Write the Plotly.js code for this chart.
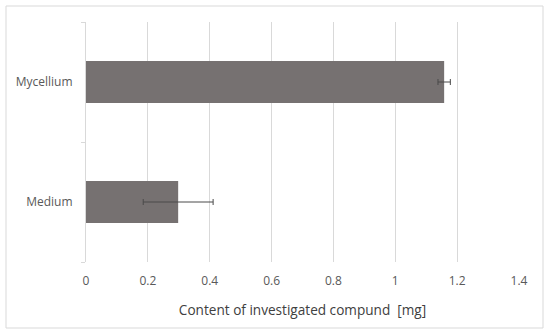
<!DOCTYPE html>
<html>
<head>
<meta charset="utf-8">
<script src="https://cdn.plot.ly/plotly-3.0.1.min.js"></script>
<style>html,body{margin:0;padding:0;background:#fff;} #chart{width:550px;height:335px;}</style>
</head>
<body>
<div id="chart"></div>
<script>
const categories = ["Medium", "Mycellium"];
const values = [0.298, 1.158];
const errors = [0.113, 0.02];
const xTicks = [0, 0.2, 0.4, 0.6, 0.8, 1, 1.2, 1.4];
const xTickLabels = ["0", "0.2", "0.4", "0.6", "0.8", "1", "1.2", "1.4"];
const xTitle = "Content of investigated compund\u00a0\u00a0[mg]";

const font = "Open Sans, Liberation Sans, sans-serif";

const trace = {
  type: "bar",
  orientation: "h",
  y: categories,
  x: values,
  width: 0.35,
  marker: { color: "#767171", line: { width: 0 } },
  error_x: { type: "data", array: errors, visible: true, color: "#4a4a4a", thickness: 1, width: 3 },
  hoverinfo: "none"
};

const layout = {
  width: 550,
  height: 335,
  margin: { l: 86, r: 31, t: 22, b: 73 },
  paper_bgcolor: "#ffffff",
  plot_bgcolor: "#ffffff",
  showlegend: false,
  bargap: 0.65,
  xaxis: {
    range: [0, 1.4],
    tickvals: xTicks,
    ticktext: xTickLabels,
    showgrid: true,
    gridcolor: "#d9d9d9",
    gridwidth: 1,
    zeroline: false,
    showline: false,
    ticks: "",
    ticklen: 0,
    ticklabelstandoff: 10,
    tickfont: { family: font, size: 12, color: "#595959" },
    title: { text: xTitle, font: { family: font, size: 13.6, color: "#404040" }, standoff: 17 },
    fixedrange: true
  },
  yaxis: {
    type: "category",
    range: [-0.5, 1.5],
    showgrid: false,
    zeroline: false,
    showline: true,
    linecolor: "#d9d9d9",
    linewidth: 1,
    ticks: "outside",
    tickson: "boundaries",
    ticklen: 4,
    tickcolor: "#d9d9d9",
    ticklabelstandoff: 10,
    tickfont: { family: font, size: 12, color: "#595959" },
    fixedrange: true
  },
  shapes: [{
    type: "rect",
    xref: "paper", yref: "paper",
    x0: (6 - 86) / 433, x1: (543 - 86) / 433,
    y0: (262 - 328) / 240, y1: (262 - 6) / 240,
    line: { color: "#d9d9d9", width: 1 },
    fillcolor: "rgba(0,0,0,0)",
    layer: "below"
  }]
};

Plotly.newPlot("chart", [trace], layout, { displayModeBar: false, staticPlot: true });
</script>
</body>
</html>
